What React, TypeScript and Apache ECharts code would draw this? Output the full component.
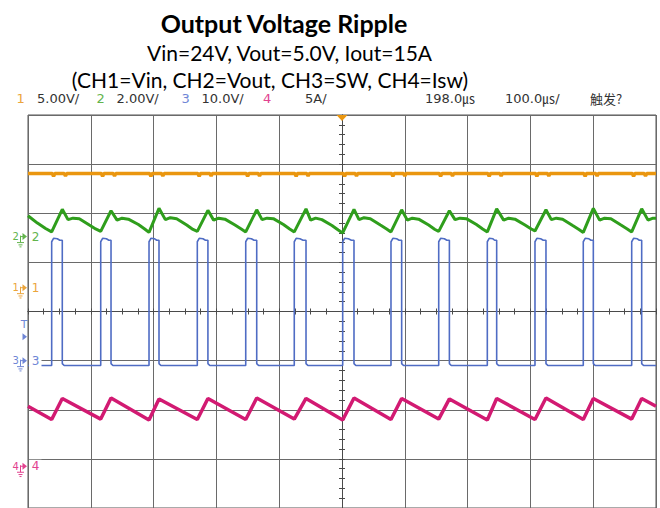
import React, { useEffect, useRef } from "react";
import * as echarts from "echarts";

// ---- Text ----
const TITLE = "Output Voltage Ripple";
const SUBTITLES = ["Vin=24V, Vout=5.0V, Iout=15A", "(CH1=Vin, CH2=Vout, CH3=SW, CH4=Isw)"];
const HEADER_TEXTS = ["1", "5.00V/", "2", "2.00V/", "3", "10.0V/", "4", "5A/", "198.0㎲", "100.0㎲/", "触发?"];

// ---- Colours ----
const C1 = "#ea960f";
const C2 = "#2f9e1c";
const C3 = "#4f6cc4";
const C4 = "#d21a72";
const C1L = "#eba53c";
const C2L = "#62b44c";
const C3L = "#6f86d6";
const C4L = "#e2428f";

// ---- Axis (divisions) ----
const X_MIN = -5;
const X_MAX = 5;
const Y_MIN = -4;
const Y_MAX = 4;

// ---- Channel ground / trigger levels (divisions) ----
const CH_LEVELS = [0.485, 1.525, -1.0, -3.15];
const TRIG_LEVEL = -0.515;

// ---- Traces: [time (div), value (div)] ----
const CH1_VIN: number[][] = [
  [-5, 2.81],
  [-4.613, 2.81], [-4.593, 2.75], [-4.573, 2.81], [-4.423, 2.81], [-4.403, 2.76], [-4.383, 2.81],
  [-3.832, 2.81], [-3.812, 2.75], [-3.792, 2.81], [-3.642, 2.81], [-3.622, 2.76], [-3.602, 2.81],
  [-3.063, 2.81], [-3.043, 2.75], [-3.023, 2.81], [-2.873, 2.81], [-2.853, 2.76], [-2.833, 2.81],
  [-2.294, 2.81], [-2.274, 2.75], [-2.254, 2.81], [-2.104, 2.81], [-2.084, 2.76], [-2.064, 2.81],
  [-1.523, 2.81], [-1.503, 2.75], [-1.483, 2.81], [-1.333, 2.81], [-1.313, 2.76], [-1.293, 2.81],
  [-0.750, 2.81], [-0.730, 2.75], [-0.710, 2.81], [-0.560, 2.81], [-0.540, 2.76], [-0.520, 2.81],
  [0.021, 2.81], [0.041, 2.75], [0.061, 2.81], [0.211, 2.81], [0.231, 2.76], [0.251, 2.81],
  [0.790, 2.81], [0.810, 2.75], [0.830, 2.81], [0.980, 2.81], [1.000, 2.76], [1.020, 2.81],
  [1.550, 2.81], [1.570, 2.75], [1.590, 2.81], [1.740, 2.81], [1.760, 2.76], [1.780, 2.81],
  [2.324, 2.81], [2.344, 2.75], [2.364, 2.81], [2.514, 2.81], [2.534, 2.76], [2.554, 2.81],
  [3.083, 2.81], [3.103, 2.75], [3.123, 2.81], [3.273, 2.81], [3.293, 2.76], [3.313, 2.81],
  [3.852, 2.81], [3.872, 2.75], [3.892, 2.81], [4.042, 2.81], [4.062, 2.76], [4.082, 2.81],
  [4.623, 2.81], [4.643, 2.75], [4.663, 2.81], [4.813, 2.81], [4.833, 2.76], [4.853, 2.81],
  [5, 2.81],
];

const CH2_VOUT: number[][] = [
  [-5, 1.95], [-4.85, 1.80], [-4.72, 1.69],
  [-4.623, 1.62], [-4.454, 2.08], [-4.363, 1.87], [-4.283, 1.90], [-4.183, 1.89], [-4.023, 1.76], [-3.923, 1.68],
  [-3.842, 1.63], [-3.678, 2.05], [-3.582, 1.86], [-3.502, 1.90], [-3.402, 1.88], [-3.242, 1.77], [-3.142, 1.68],
  [-3.073, 1.61], [-2.914, 2.10], [-2.813, 1.87], [-2.733, 1.91], [-2.633, 1.89], [-2.473, 1.76], [-2.373, 1.67],
  [-2.304, 1.63], [-2.135, 2.06], [-2.044, 1.86], [-1.964, 1.90], [-1.864, 1.88], [-1.704, 1.76], [-1.604, 1.68],
  [-1.533, 1.62], [-1.358, 2.07], [-1.273, 1.87], [-1.193, 1.90], [-1.093, 1.89], [-0.933, 1.77], [-0.833, 1.68],
  [-0.760, 1.62], [-0.573, 2.09], [-0.500, 1.86], [-0.420, 1.90], [-0.320, 1.87], [-0.160, 1.75], [-0.060, 1.66],
  [0.011, 1.60], [0.191, 2.08], [0.271, 1.87], [0.351, 1.91], [0.451, 1.89], [0.611, 1.76], [0.711, 1.68],
  [0.780, 1.62], [0.950, 2.07], [1.040, 1.86], [1.120, 1.90], [1.220, 1.88], [1.380, 1.76], [1.480, 1.67],
  [1.540, 1.63], [1.710, 2.05], [1.800, 1.87], [1.880, 1.90], [1.980, 1.89], [2.140, 1.77], [2.240, 1.68],
  [2.314, 1.62], [2.463, 2.09], [2.574, 1.86], [2.654, 1.90], [2.754, 1.88], [2.914, 1.76], [3.014, 1.68],
  [3.073, 1.64], [3.248, 2.07], [3.333, 1.87], [3.413, 1.90], [3.513, 1.88], [3.673, 1.75], [3.773, 1.67],
  [3.842, 1.61], [4.002, 2.10], [4.102, 1.86], [4.182, 1.90], [4.282, 1.89], [4.442, 1.76], [4.542, 1.68],
  [4.613, 1.62], [4.772, 2.09], [4.873, 1.86], [4.953, 1.90], [5, 1.90],
];

const CH3_SW: number[][] = [
  [-5, -1.10],
  [-4.623, -1.10], [-4.623, 1.42], [-4.593, 1.49], [-4.533, 1.48], [-4.493, 1.45], [-4.454, 1.45], [-4.454, -1.06], [-4.424, -1.10],
  [-3.842, -1.10], [-3.842, 1.42], [-3.812, 1.49], [-3.752, 1.48], [-3.712, 1.45], [-3.678, 1.45], [-3.678, -1.06], [-3.648, -1.10],
  [-3.073, -1.10], [-3.073, 1.42], [-3.043, 1.49], [-2.983, 1.48], [-2.950, 1.45], [-2.914, 1.45], [-2.914, -1.06], [-2.884, -1.10],
  [-2.304, -1.10], [-2.304, 1.42], [-2.274, 1.49], [-2.214, 1.48], [-2.174, 1.45], [-2.135, 1.45], [-2.135, -1.06], [-2.105, -1.10],
  [-1.533, -1.10], [-1.533, 1.42], [-1.503, 1.49], [-1.443, 1.48], [-1.400, 1.45], [-1.358, 1.45], [-1.358, -1.06], [-1.328, -1.10],
  [-0.760, -1.10], [-0.760, 1.42], [-0.730, 1.49], [-0.670, 1.48], [-0.620, 1.45], [-0.573, 1.45], [-0.573, -1.06], [-0.543, -1.10],
  [0.011, -1.10], [0.011, 1.42], [0.041, 1.49], [0.101, 1.48], [0.150, 1.45], [0.191, 1.45], [0.191, -1.06], [0.221, -1.10],
  [0.780, -1.10], [0.780, 1.42], [0.810, 1.49], [0.870, 1.48], [0.910, 1.45], [0.950, 1.45], [0.950, -1.06], [0.980, -1.10],
  [1.540, -1.10], [1.540, 1.42], [1.570, 1.49], [1.630, 1.48], [1.670, 1.45], [1.710, 1.45], [1.710, -1.06], [1.740, -1.10],
  [2.314, -1.10], [2.314, 1.42], [2.344, 1.49], [2.404, 1.48], [2.430, 1.45], [2.463, 1.45], [2.463, -1.06], [2.493, -1.10],
  [3.073, -1.10], [3.073, 1.42], [3.103, 1.49], [3.163, 1.48], [3.205, 1.45], [3.248, 1.45], [3.248, -1.06], [3.278, -1.10],
  [3.842, -1.10], [3.842, 1.42], [3.872, 1.49], [3.932, 1.48], [3.965, 1.45], [4.002, 1.45], [4.002, -1.06], [4.032, -1.10],
  [4.613, -1.10], [4.613, 1.42], [4.643, 1.49], [4.703, 1.48], [4.735, 1.45], [4.772, 1.45], [4.772, -1.06], [4.802, -1.10],
  [5, -1.10],
];

const CH4_ISW: number[][] = [
  [-5, -1.93],
  [-4.623, -2.20], [-4.454, -1.77],
  [-3.842, -2.19], [-3.678, -1.76],
  [-3.073, -2.21], [-2.914, -1.78],
  [-2.304, -2.20], [-2.135, -1.77],
  [-1.533, -2.20], [-1.358, -1.76],
  [-0.760, -2.19], [-0.573, -1.77],
  [0.011, -2.21], [0.191, -1.76],
  [0.780, -2.20], [0.950, -1.77],
  [1.540, -2.19], [1.710, -1.78],
  [2.314, -2.21], [2.463, -1.77],
  [3.073, -2.20], [3.248, -1.76],
  [3.842, -2.20], [4.002, -1.77],
  [4.613, -2.19], [4.772, -1.77],
  [5, -1.93],
];

const AXIS_COLOR = "#4a4a4a";
const GRID_COLOR = "#6a6a6a";

function axisBase(min: number, max: number, minorSplit: number) {
  return {
    type: "value",
    min,
    max,
    interval: 1,
    axisLabel: { show: false },
    axisLine: { show: true, onZero: true, lineStyle: { color: AXIS_COLOR, width: 1 } },
    axisTick: { show: true, length: 3, lineStyle: { color: AXIS_COLOR, width: 1 } },
    minorTick: { show: true, splitNumber: minorSplit, length: 3, lineStyle: { color: AXIS_COLOR, width: 1 } },
    minorSplitLine: { show: false },
  };
}

function txt(x: number, y: number, text: string, font: string, fill: string, align = "left", z = 60) {
  return {
    type: "text",
    x,
    y,
    z,
    silent: true,
    style: {
      text,
      font,
      fill,
      align,
      verticalAlign: "middle",
      textAlign: align,
      textVerticalAlign: "middle",
    },
  };
}

export default function App() {
  const ref = useRef<HTMLDivElement>(null);

  useEffect(() => {
    document.body.style.margin = "0";
    if (!ref.current) return;
    const chart = echarts.init(ref.current, null, { renderer: "svg" });

    const option: any = {
      animation: false,
      backgroundColor: "#ffffff",
      grid: {
        left: 28,
        top: 115,
        width: 628,
        height: 396,
        show: true,
        borderColor: "#555555",
        borderWidth: 1,
        backgroundColor: "#ffffff",
        containLabel: false,
      },
      xAxis: [
        { ...axisBase(X_MIN, X_MAX, 4), position: "bottom", splitLine: { show: true, lineStyle: { color: GRID_COLOR, width: 1 } } },
        { ...axisBase(X_MIN, X_MAX, 4), position: "top", splitLine: { show: false } },
      ],
      yAxis: [
        { ...axisBase(Y_MIN, Y_MAX, 5), position: "left", splitLine: { show: true, lineStyle: { color: GRID_COLOR, width: 1 } } },
        { ...axisBase(Y_MIN, Y_MAX, 5), position: "right", splitLine: { show: false } },
      ],
      series: [
        { name: "CH1", type: "line", data: CH1_VIN, symbol: "none", silent: true, z: 3, lineStyle: { color: C1, width: 3.5 } },
        { name: "CH2", type: "line", data: CH2_VOUT, symbol: "none", silent: true, z: 4, lineStyle: { color: C2, width: 3 } },
        { name: "CH3", type: "line", data: CH3_SW, symbol: "none", silent: true, z: 5, lineStyle: { color: C3, width: 1.6 } },
        { name: "CH4", type: "line", data: CH4_ISW, symbol: "none", silent: true, z: 6, lineStyle: { color: C4, width: 3.5 } },
      ],
    };
    chart.setOption(option);

    const toPx = (x: number, y: number) => chart.convertToPixel({ seriesIndex: 0 }, [x, y]) as number[];
    const leftX = toPx(X_MIN, 0)[0];
    const topY = toPx(0, Y_MAX)[1];
    const centerX = toPx(0, 0)[0];

    const graphics: any[] = [];
    // titles
    graphics.push(txt(284, 22.5, TITLE, "bold 25px Lato, 'Open Sans', sans-serif", "#000", "center"));
    graphics.push(txt(289.5, 52.5, SUBTITLES[0], "21px Lato, 'Open Sans', sans-serif", "#000", "center"));
    graphics.push(txt(270, 79, SUBTITLES[1], "21px Lato, 'Open Sans', sans-serif", "#000", "center"));

    // header
    const hf = "13px 'DejaVu Sans', 'Noto Sans CJK SC', sans-serif";
    const hy = 98;
    const hx = [16.5, 37, 96.5, 116.5, 181.5, 201.5, 263, 305, 425, 505, 590];
    const hc = [C1L, "#333", C2L, "#333", C3L, "#333", C4L, "#333", "#333", "#333", "#333"];
    HEADER_TEXTS.forEach((t, i) => {
      const f = i === 10 ? "13px 'Noto Sans CJK SC', sans-serif" : hf;
      graphics.push(txt(hx[i], hy, t, f, hc[i], "left"));
    });

    // channel markers
    const colors = [C1L, C2L, C3L, C4L];
    CH_LEVELS.forEach((lv, i) => {
      const y = toPx(X_MIN, lv)[1];
      const col = colors[i];
      const lbl = String(i + 1);
      graphics.push(txt(leftX - 15.5, y, lbl, "10px 'DejaVu Sans', sans-serif", col, "left"));
      const ln = (x1: number, y1: number, x2: number, y2: number) => ({
        type: "line", z: 60, silent: true,
        shape: { x1, y1, x2, y2 },
        style: { stroke: col, lineWidth: 1 },
      });
      graphics.push(ln(leftX - 7.5, y, leftX - 5, y));
      graphics.push(ln(leftX - 7.5, y - 1, leftX - 7.5, y + 6));
      graphics.push(ln(leftX - 11, y + 6, leftX - 4, y + 6));
      graphics.push(ln(leftX - 9.5, y + 8.3, leftX - 5.5, y + 8.3));
      graphics.push(ln(leftX - 8.5, y + 10.3, leftX - 6.5, y + 10.3));
      graphics.push({
        type: "polygon", z: 60, silent: true,
        shape: { points: [[leftX - 5.5, y - 3.5], [leftX - 1, y], [leftX - 5.5, y + 3.5]] },
        style: { fill: col },
      });
      graphics.push({
        type: "rect", z: 58, silent: true,
        shape: { x: leftX + 1, y: y - 6.5, width: 12.5, height: 13 },
        style: { fill: "#ffffff" },
      });
      graphics.push(txt(leftX + 7.5, y, lbl, "12px 'DejaVu Sans', sans-serif", col, "center"));
    });

    // trigger level marker
    const ty = toPx(X_MIN, TRIG_LEVEL)[1];
    graphics.push(txt(leftX - 4, ty - 12, "T", "11px 'DejaVu Sans', sans-serif", C3L, "center"));
    graphics.push({
      type: "polygon", z: 60, silent: true,
      shape: { points: [[leftX - 5.5, ty - 3.5], [leftX - 1, ty], [leftX - 5.5, ty + 3.5]] },
      style: { fill: C3L },
    });

    // trigger position marker (top)
    graphics.push({
      type: "polygon", z: 60, silent: true,
      shape: { points: [[centerX - 5.5, topY], [centerX + 5.5, topY], [centerX, topY + 6]] },
      style: { fill: C1 },
    });

    chart.setOption({ graphic: graphics });

    return () => {
      chart.dispose();
    };
  }, []);

  return <div ref={ref} style={{ width: 660, height: 508 }} />;
}
